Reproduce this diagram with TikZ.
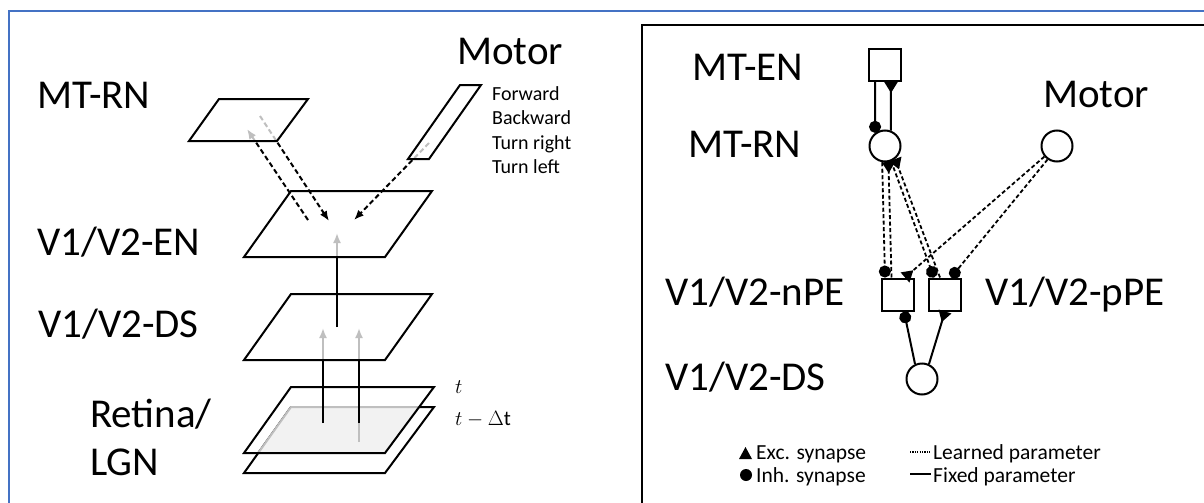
\documentclass[tikz,border=0pt]{standalone}
\usepackage{fontspec}
\setmainfont{Carlito}
\usetikzlibrary{arrows.meta,calc}
\definecolor{frameblue}{RGB}{68,114,196}
\definecolor{seegray}{RGB}{191,191,191}
\definecolor{overlapfill}{RGB}{242,242,242}
\begin{document}
\begin{tikzpicture}[x=1pt,y=-1pt,
  lbl/.style={anchor=base west,inner sep=0,font=\fontsize{41}{48}\selectfont},
  smalltxt/.style={anchor=base west,inner sep=0,font=\fontsize{20}{24}\selectfont},
  legtxt/.style={anchor=base west,inner sep=0,font=\fontsize{21.5}{25}\selectfont},
  mathtxt/.style={anchor=base west,inner sep=0,font=\fontsize{21}{25}\selectfont},
  layer/.style={draw=black,line width=2pt,fill=white,fill opacity=0.75,draw opacity=1},
  layerline/.style={draw=black,line width=2pt},
  solidarrow/.style={line width=2pt,-{Latex[length=10pt,width=8pt]}},
  dasharrow/.style={line width=2pt,dash pattern=on 5pt off 3pt,-{Latex[length=10pt,width=8pt]}},
  sq/.style={draw,line width=2pt,fill=white,minimum size=32pt,inner sep=0},
  circ/.style={draw,circle,line width=2pt,fill=white,minimum size=31pt,inner sep=0},
  fixedc/.style={line width=2pt},
  learnedc/.style={line width=1.8pt,dash pattern=on 4pt off 2.5pt},
  inh/.style={-{Circle[length=12pt]}},
  exc/.style={-{Triangle[reversed,length=11pt,width=13pt]}}
]
\useasboundingbox (0,0) rectangle (1204,503);
% frames
\draw[frameblue,line width=2.5pt] (9,503) -- (9,11) -- (1204,11);
\draw[black,line width=2pt] (642,503) -- (642,25) -- (1204,25);

% ---------------- left panel ----------------
\coordinate (mr1) at (219,99);  \coordinate (mr2) at (308,99);
\coordinate (mr3) at (277,141); \coordinate (mr4) at (189,141);
\coordinate (mo1) at (460,85);  \coordinate (mo2) at (481,85);
\coordinate (mo3) at (429,159); \coordinate (mo4) at (408,159);
\coordinate (en1) at (291,191); \coordinate (en2) at (432,191);
\coordinate (en3) at (385,257); \coordinate (en4) at (244,257);
\coordinate (ds1) at (291,294); \coordinate (ds2) at (432,294);
\coordinate (ds3) at (385,360); \coordinate (ds4) at (244,360);
\coordinate (ru1) at (291,387); \coordinate (ru2) at (434,387);
\coordinate (ru3) at (385,453); \coordinate (ru4) at (244,453);
\coordinate (rl1) at (291,407); \coordinate (rl2) at (434,407);
\coordinate (rl3) at (385,473); \coordinate (rl4) at (244,473);

% retina layers
\fill[white] (rl1) -- (rl2) -- (rl3) -- (rl4) -- cycle;
\draw[layerline] (rl1) -- (rl2) -- (rl3) -- (rl4) -- cycle;
\begin{scope}
  \clip (ru1) -- (ru2) -- (ru3) -- (ru4) -- cycle;
  \fill[overlapfill] (rl1) -- (rl2) -- (rl3) -- (rl4) -- cycle;
  \draw[seegray,line width=2pt] (rl1) -- (rl2) -- (rl3) -- (rl4) -- cycle;
\end{scope}
\coordinate (rA) at (323,423);
\coordinate (rB0) at (359,442);
\coordinate (rB) at (359,423);
\draw[seegray,line width=2pt] (rB0) -- (rB);
\draw[layerline] (ru1) -- (ru2) -- (ru3) -- (ru4) -- cycle;
% retina -> DS
\coordinate (dsA) at (323,328);
\coordinate (dsB) at (359,328);
\draw[solidarrow] (rA) -- (dsA);
\draw[solidarrow] (rB) -- (dsB);
% DS layer
\draw[layer] (ds1) -- (ds2) -- (ds3) -- (ds4) -- cycle;
% DS -> EN
\coordinate (dsC) at (337,327);
\coordinate (enT) at (337,233);
\draw[solidarrow] (dsC) -- (enT);
% EN layer
\draw[layer] (en1) -- (en2) -- (en3) -- (en4) -- cycle;
% dashed arrows
\coordinate (enA) at (308,220); \coordinate (mrA) at (247,129);
\coordinate (mrB) at (260,116); \coordinate (enB) at (329,221);
\coordinate (moA) at (429,143); \coordinate (enC) at (354,220);
\draw[dasharrow] (enA) -- (mrA);
\draw[dasharrow] (mrB) -- (enB);
\draw[dasharrow] (moA) -- (enC);
% MT-RN and motor layers
\draw[layer] (mr1) -- (mr2) -- (mr3) -- (mr4) -- cycle;
\draw[layer] (mo1) -- (mo2) -- (mo3) -- (mo4) -- cycle;

% left labels
\node[lbl] (lmtrn) at (37,108) {MT-RN};
\node[lbl] (lmotor) at (457,65) {Motor};
\node[smalltxt] (fw) at (492,100) {Forward};
\node[smalltxt] (bw) at (492,124) {Backward};
\node[smalltxt] (tr) at (492,149) {Turn right};
\node[smalltxt] (tl) at (492,173) {Turn left};
\node[lbl] (len) at (37,255) {V1/V2-EN};
\node[lbl] (lds) at (38,337) {V1/V2-DS};
\node[lbl] (lret) at (90,427) {Retina/};
\node[lbl] (llgn) at (90,475) {LGN};
\node[mathtxt] (tlab) at (455,393) {$t$};
\node[mathtxt] (tdlab) at (455,425) {$t-\Delta\mathrm{t}$};

% ---------------- right panel ----------------
\node[sq] (mten) at (885,65) {};
\node[circ] (mtrn) at (885,146) {};
\node[circ] (motor) at (1057,146) {};
\node[sq] (npe) at (897.5,294.5) {};
\node[sq] (ppe) at (945,294.5) {};
\node[circ] (ds) at (922,379) {};

\node[lbl] (rmten) at (692,81) {MT-EN};
\node[lbl] (rmtrn) at (688,157) {MT-RN};
\node[lbl] (rmotor) at (1043,107) {Motor};
\node[lbl] (rnpe) at (665,305) {V1/V2-nPE};
\node[lbl] (rppe) at (985,305) {V1/V2-pPE};
\node[lbl] (rds) at (665,390) {V1/V2-DS};

% fixed connections
\draw[fixedc,inh] ($(mten.south)+(-10,0)$) -- (mtrn.127);
\draw[fixedc,exc] (mtrn.69) -- ($(mten.south)+(6,0)$);
\draw[fixedc,inh] (ds.115) -- ($(npe.south)+(6.5,0)$);
\draw[fixedc,exc] (ds.65) -- (ppe.south);

% learned connections
\draw[learnedc,inh] (mtrn.-100) -- ($(npe.north)+(-12.5,0)$);
\draw[learnedc,exc] ($(npe.north)+(-6,0)$) -- (mtrn.-78);
\draw[learnedc,inh] (mtrn.-68) -- ($(ppe.north)+(-11,0)$);
\draw[learnedc,exc] ($(ppe.north)+(-5,0)$) -- (mtrn.-52);
\draw[learnedc,exc] (motor.-140) -- ($(npe.north)+(7.5,0)$);
\draw[learnedc,inh] (motor.-125) -- ($(ppe.north)+(6,0)$);

% legend
\fill (739,459) -- (752,459) -- (745.5,447) -- cycle;
\fill (746,475) circle (6);
\node[legtxt] (lexc) at (756,459) {Exc. synapse};
\node[legtxt] (linh) at (756,482) {Inh. synapse};
\coordinate (ld1) at (910,452); \coordinate (ld2) at (931,452);
\coordinate (lf1) at (910,474); \coordinate (lf2) at (931,474);
\draw[line width=1.2pt,dash pattern=on 1.2pt off 1.2pt] (ld1) -- (ld2);
\draw[line width=1.5pt] (lf1) -- (lf2);
\node[legtxt] (llearn) at (933,459) {Learned parameter};
\node[legtxt] (lfix) at (933,482) {Fixed parameter};
\end{tikzpicture}
\end{document}
